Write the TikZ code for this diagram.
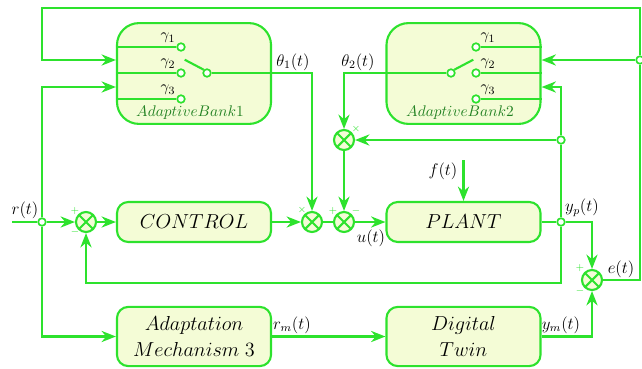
\documentclass[tikz,border=0pt]{standalone}
\usetikzlibrary{arrows.meta,calc}
\definecolor{lgreen}{RGB}{45,226,45}
\definecolor{lfill}{RGB}{244,252,214}
\definecolor{bankgreen}{RGB}{34,130,34}
\tikzset{
	wire/.style={draw=lgreen, line width=1.5pt},
	sig/.style={wire, -{Stealth[length=3.6mm,width=2.8mm]}},
	block/.style={draw=lgreen, fill=lfill, line width=1.5pt, rounded corners=8pt,
		minimum width=3.85cm, font=\Large, align=center, inner sep=1pt},
	bank/.style={draw=lgreen, fill=lfill, line width=1.5pt, rounded corners=0.55cm,
		minimum width=3.85cm, minimum height=2.52cm},
	banklabel/.style={text=bankgreen, inner sep=0pt, font=\fontsize{11}{13}\selectfont},
	sumnode/.style={circle, draw=lgreen, fill=lfill, line width=1.5pt, minimum size=0.5cm, inner sep=0pt,
		path picture={\draw[lgreen, line width=1.5pt]
			(path picture bounding box.north west) -- (path picture bounding box.south east)
			(path picture bounding box.north east) -- (path picture bounding box.south west);}},
	tap/.style={circle, draw=lgreen, fill=white, line width=1.2pt, minimum size=0.19cm, inner sep=0pt},
	sgn/.style={text=lgreen, font=\scriptsize, inner sep=0pt},
	lbl/.style={font=\large, inner sep=0pt},
	gam/.style={font=\fontsize{11}{13}\selectfont, inner sep=0pt},
}
\begin{document}
\begin{tikzpicture}[x=0.025cm,y=-0.025cm]
	\useasboundingbox (0,0) rectangle (642,368);
	% adaptive banks
	\node[bank] (bankA) at (194,73.5) {};
	\node[bank] (bankB) at (463.5,73.5) {};
	\node[banklabel] (labA) at (190,113) {$AdaptiveBank1$};
	\node[banklabel] (labB) at (460,113) {$AdaptiveBank2$};
	\foreach \i/\yy in {1/47,2/73,3/99}{
		\node[tap] (a\i) at (181,\yy) {};
		\node[tap] (b\i) at (476,\yy) {};
		\draw[wire] (bankA.west |- a\i) -- (a\i);
		\draw[wire] (b\i) -- (bankB.east |- b\i);
		\node[gam] (ga\i) at (168,\yy-9) {$\gamma_\i$};
		\node[gam] (gb\i) at (488,\yy-9) {$\gamma_\i$};
	}
	\node[tap] (pa) at (207,73) {};
	\node[tap] (pb) at (451,73) {};
	\draw[wire] (pa.north west) -- ++(-19,-10);
	\draw[wire] (pb.north east) -- ++(19,-10);
	\coordinate (inA1) at ($(bankA.west)+(0,-13.5)$);
	\coordinate (inA2) at ($(bankA.west)+(0,13.5)$);
	\coordinate (inB1) at ($(bankB.east)+(0,-13.5)$);
	\coordinate (inB2) at ($(bankB.east)+(0,13.5)$);

	% main blocks
	\node[block, minimum height=1cm] (ctrl) at (194,222) {$CONTROL$};
	\node[block, minimum height=1cm] (plant) at (463.5,222) {$PLANT$};
	\node[block, minimum height=1.48cm] (adapt) at (194,336.5) {$Adaptation$\\[1pt]$Mechanism\;3$};
	\node[block, minimum height=1.48cm] (twin) at (463.5,336.5) {$Digital$\\[1pt]$Twin$};

	% junctions
	\node[sumnode] (s1) at (86,222) {};
	\node[sumnode] (m1) at (312,222) {};
	\node[sumnode] (s2) at (344,222) {};
	\node[sumnode] (m0) at (344,140) {};
	\node[sumnode] (s3) at (592,280) {};
	\node[sgn] (s1p) at (75,211) {$+$};
	\node[sgn] (s1m) at (75,232) {$-$};
	\node[sgn] (m1x) at (302,210) {$\times$};
	\node[sgn] (s2p) at (333,211) {$+$};
	\node[sgn] (s2m) at (356,211) {$-$};
	\node[sgn] (m0x) at (356,129) {$\times$};
	\node[sgn] (s3p) at (580,268) {$+$};
	\node[sgn] (s3m) at (580,291) {$-$};

	% taps and free ends
	\node[tap] (rt) at (42,222) {};
	\node[tap] (yp) at (561,222) {};
	\node[tap] (yb) at (561,140) {};
	\node[tap] (et) at (640,60) {};
	\coordinate (rin) at (12,222);
	\coordinate (ftop) at (463.5,160);
	\coordinate (topL) at (42,8);
	\coordinate (fb) at (561,283);

	% signals
	\draw[wire] (rin) -- (rt);
	\draw[sig] (rt) -- (s1);
	\draw[sig] (s1) -- (ctrl);
	\draw[sig] (ctrl) -- (m1);
	\draw[wire] (m1) -- (s2);
	\draw[sig] (s2) -- (plant);
	\draw[wire] (plant) -- (yp);
	\draw[sig] (yp) -| (s3);
	\draw[sig] (yp) -- (fb) -| (s1);
	\draw[wire] (yp) -- (yb);
	\draw[sig] (yb) -- (m0);
	\draw[sig] (m0) -- (s2);
	\draw[sig] (yb) |- (inB2);
	\draw[sig] (ftop) -- (plant.north);
	\draw[sig] (pa) -| (m1);
	\draw[sig] (pb) -| (m0);
	\draw[wire] (s3) -| (et);
	\draw[sig] (et) -- (inB1);
	\draw[sig] (et) |- (topL) |- (inA1);
	\draw[sig] (rt) |- (inA2);
	\draw[sig] (rt) |- (adapt);
	\draw[sig] (adapt) -- (twin);
	\draw[sig] (twin) -| (s3);

	% labels
	\node[lbl] (lr) at (25,210) {$r(t)$};
	\node[lbl] (lth1) at (293,62) {$\theta_1(t)$};
	\node[lbl] (lth2) at (358,62) {$\theta_2(t)$};
	\node[lbl] (lf) at (443,171) {$f(t)$};
	\node[lbl] (lu) at (371,238) {$u(t)$};
	\node[lbl] (lyp) at (582,208) {$y_p(t)$};
	\node[lbl] (le) at (621,269) {$e(t)$};
	\node[lbl] (lym) at (561,325) {$y_m(t)$};
	\node[lbl] (lrm) at (292,325) {$r_m(t)$};
\end{tikzpicture}
\end{document}
